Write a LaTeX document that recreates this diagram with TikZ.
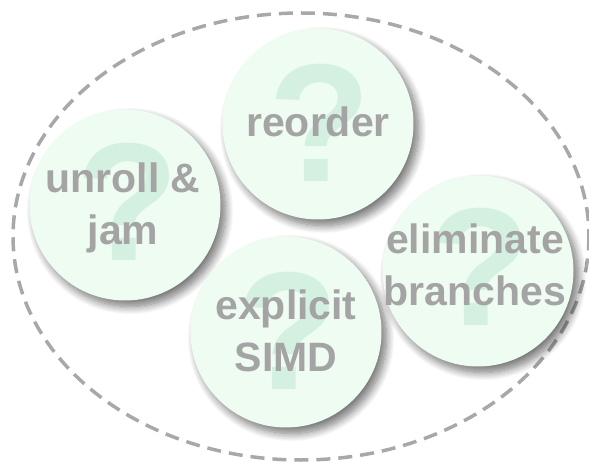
\documentclass[tikz,border=0pt]{standalone}
\usepackage{fontspec}
\setmainfont{Liberation Sans}
\usetikzlibrary{shadows.blur}
\definecolor{bubble}{RGB}{238,252,241}
\definecolor{qmark}{RGB}{212,240,224}
\definecolor{ink}{RGB}{164,164,164}
\definecolor{rim}{RGB}{168,168,168}
\tikzset{
  bubble/.style={circle, minimum size=191pt, inner sep=0pt, fill=bubble,
    blur shadow={shadow xshift=5pt, shadow yshift=-6pt, shadow blur radius=8pt,
      shadow blur steps=12, shadow opacity=55}},
  qmark/.style={text=qmark, font=\fontsize{168}{168}\selectfont\bfseries, inner sep=0pt},
  lbl/.style={text=ink, font=\fontsize{41}{52}\selectfont\bfseries, align=center, inner sep=0pt},
  rim/.style={draw=rim, line width=3.5pt, dash pattern=on 14pt off 8pt}
}
\begin{document}
\begin{tikzpicture}[x=1pt, y=-1pt]
  \useasboundingbox (0,0) rectangle (589,462);
  % enclosing dashed ellipse
  \draw[rim] (301,236.5) ellipse [x radius=288, y radius=223.5];
  % the four bubbles
  \node[bubble] (reorder) at (318,124) {};
  \node[bubble] (unroll)  at (125,205) {};
  \node[bubble] (simd)    at (286,332) {};
  \node[bubble] (branch)  at (478,271) {};
  % faint question marks behind the labels
  \node[qmark] (q1) at (320,123) {?};
  \node[qmark] (q2) at (128,202) {?};
  \node[qmark] (q3) at (288,331) {?};
  \node[qmark] (q4) at (480,267) {?};
  % labels
  \node[lbl] (t1) at (318,122) {reorder};
  \node[lbl] (t2) at (123,208) {unroll \&\\jam};
  \node[lbl] (t3) at (286,331) {explicit\\SIMD};
  \node[lbl] (t4) at (475,265) {eliminate\\branches};
\end{tikzpicture}
\end{document}
